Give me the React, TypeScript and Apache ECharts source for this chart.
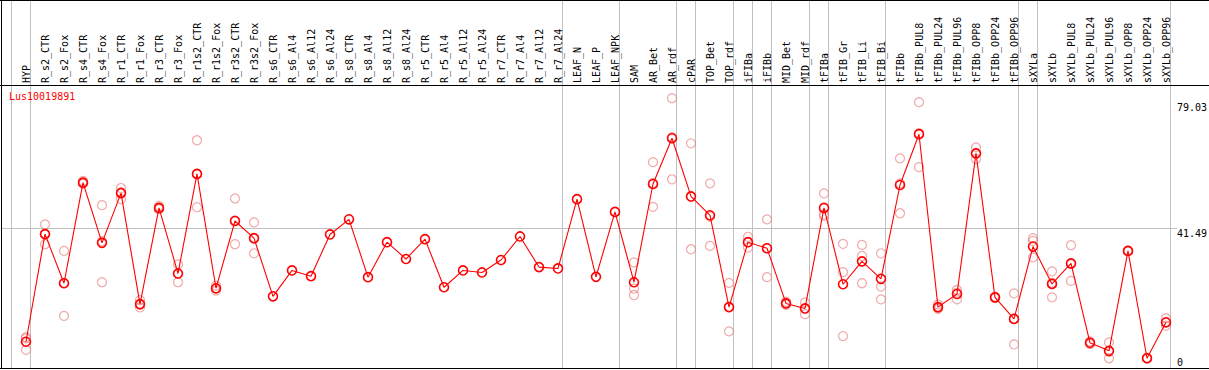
import React, { useEffect, useRef } from "react";
import * as echarts from "echarts";

const categories = [
  "HYP", "R_s2_CTR", "R_s2_Fox", "R_s4_CTR", "R_s4_Fox", "R_r1_CTR", "R_r1_Fox", "R_r3_CTR", "R_r3_Fox",
  "R_r1s2_CTR", "R_r1s2_Fox", "R_r3s2_CTR", "R_r3s2_Fox", "R_s6_CTR", "R_s6_Al4", "R_s6_Al12", "R_s6_Al24",
  "R_s8_CTR", "R_s8_Al4", "R_s8_Al12", "R_s8_Al24", "R_r5_CTR", "R_r5_Al4", "R_r5_Al12", "R_r5_Al24",
  "R_r7_CTR", "R_r7_Al4", "R_r7_Al12", "R_r7_Al24", "LEAF_N", "LEAF_P", "LEAF_NPK", "SAM", "AR_Bet", "AR_rdf",
  "cPAR", "TOP_Bet", "TOP_rdf", "iFIBa", "iFIBb", "MID_Bet", "MID_rdf", "tFIBa", "tFIB_Gr", "tFIB_Li", "tFIB_Bi",
  "tFIBb", "tFIBb_PUL8", "tFIBb_PUL24", "tFIBb_PUL96", "tFIBb_OPP8", "tFIBb_OPP24", "tFIBb_OPP96",
  "sXYLa", "sXYLb", "sXYLb_PUL8", "sXYLb_PUL24", "sXYLb_PUL96", "sXYLb_OPP8", "sXYLb_OPP24", "sXYLb_OPP96",
];

const meanValues = [
  7.8, 39.8, 25.2, 55.1, 37.2, 52.0, 19.0, 47.6, 28.1,
  57.7, 23.7, 43.7, 38.6, 21.3, 29.0, 27.3, 39.7,
  44.2, 27.0, 37.4, 32.4, 38.3, 24.0, 29.0, 28.4,
  32.1, 39.1, 30.0, 29.6, 50.2, 27.1, 46.4, 25.5, 54.7, 68.3,
  51.0, 45.4, 18.1, 37.4, 35.6, 19.2, 17.7, 47.6, 24.9, 31.7, 26.5,
  54.4, 69.5, 18.1, 22.0, 63.8, 21.0, 14.6,
  36.1, 25.0, 31.1, 7.5, 5.1, 34.8, 2.9, 13.6,
];

const N = null;
const replicateA = [
  9.2, 42.7, 34.8, 55.6, 48.4, 53.5, 20.2, 48.2, 30.8,
  67.7, 24.5, 50.4, 43.3, N, N, N, N,
  N, N, N, N, N, N, N, N,
  N, N, N, N, N, N, N, 31.4, 61.2, 80.2,
  66.8, 54.9, 25.3, 39.0, 44.2, 19.7, 19.5, 51.9, 36.9, 36.6, 34.1,
  62.3, 79.03, 18.9, 23.2, 65.6, 21.2, 22.2,
  38.6, 28.7, 36.5, 7.9, 7.6, 34.8, 3.1, 14.8,
];
const replicateB = [
  8.8, 39.9, 25.3, 54.9, 37.7, 52.3, 18.8, 47.3, 28.0,
  57.6, 23.6, 43.9, 38.4, N, N, N, N,
  N, N, N, N, N, N, N, N,
  N, N, N, N, N, N, N, 23.6, 55.0, 68.6,
  50.9, 45.0, 18.1, 37.4, 35.6, 19.1, 17.6, 45.7, 28.5, 33.3, 24.2,
  54.9, 69.8, 17.8, 22.4, 63.7, 21.0, 14.6,
  37.8, 25.3, 30.9, 7.5, 4.8, 34.8, 2.9, 13.4,
];
const replicateC = [
  5.4, 36.8, 15.5, 54.8, 25.5, 50.2, 18.0, 47.3, 25.5,
  47.8, 23.0, 36.8, 34.1, N, N, N, N,
  N, N, N, N, N, N, N, N,
  N, N, N, N, N, N, N, 21.7, 47.9, 56.1,
  35.3, 36.3, 10.9, 35.8, 27.0, 18.8, 16.0, 45.2, 9.5, 25.2, 20.4,
  46.0, 59.7, 17.6, 20.4, 62.1, 20.8, 7.0,
  32.9, 21.0, 25.9, 7.1, 2.9, 34.8, 2.8, 12.6,
];

const yTickValues = [79.03, 41.49, 0];
const yTickLabels = ["79.03", "41.49", "0"];
const gridLineValue = 41.49;
// index of the last category of each group (-1 = before the first one)
const groupEnds = [-1, 0, 28, 31, 34, 35, 37, 38, 39, 41, 42, 45, 52, 53, 60];
const geneName = "Lus10019891";
const Y_MAX = 84.13;

const FONT = "'DejaVu Sans Mono', monospace";

export default function App() {
  const ref = useRef<HTMLDivElement>(null);
  useEffect(() => {
    if (!ref.current) return;
    const chart = echarts.init(ref.current, null, { renderer: "svg" });
    const replicatePoints: [number, number][] = [];
    [replicateA, replicateB, replicateC].forEach((arr) =>
      arr.forEach((v, i) => {
        if (v !== null) replicatePoints.push([i, v as number]);
      })
    );
    chart.setOption({
      animation: false,
      grid: { left: 26, right: 43, top: 85, bottom: 2, containLabel: false },
      xAxis: {
        type: "category",
        position: "top",
        data: categories,
        boundaryGap: false,
        axisLine: { show: false },
        axisTick: { show: false },
        splitLine: { show: false },
        axisLabel: {
          interval: 0,
          rotate: 90,
          margin: 2,
          fontFamily: FONT,
          fontSize: 10,
          color: "#000",
        },
      },
      yAxis: {
        type: "value",
        min: 0,
        max: Y_MAX,
        show: false,
        splitLine: { show: false },
      },
      series: [
        {
          type: "scatter",
          data: replicatePoints,
          symbol: "circle",
          symbolSize: 9,
          z: 2,
          itemStyle: {
            color: "rgba(0,0,0,0)",
            borderColor: "rgba(232,120,120,0.8)",
            borderWidth: 1.2,
          },
        },
        {
          type: "line",
          data: meanValues,
          symbol: "circle",
          symbolSize: 9,
          showSymbol: true,
          showAllSymbol: true,
          z: 3,
          lineStyle: { color: "#ff0000", width: 1.1 },
          itemStyle: {
            color: "rgba(0,0,0,0)",
            borderColor: "#ff0000",
            borderWidth: 1.6,
          },
        },
      ],
    });

    const px = (i: number) => chart.convertToPixel({ xAxisIndex: 0 }, categories[i]) as number;
    const step = px(1) - px(0);
    const xOf = (i: number) => (i < 0 ? px(0) + i * step : px(i));
    const py = (v: number) => chart.convertToPixel({ yAxisIndex: 0 }, v) as number;
    const W = 1209;
    const bottomY = Math.round(py(0)) + 0.5;
    const topAxisY = Math.round(py(Y_MAX)) + 0.5;
    const labelX = xOf(60) + 11;

    const graphic: any[] = [];
    groupEnds.forEach((b) => {
      const x = Math.round(xOf(b) + 4) + 0.5;
      graphic.push({
        type: "line",
        z: 0,
        silent: true,
        shape: { x1: x, y1: 0, x2: x, y2: bottomY },
        style: { stroke: "#c0c0c0", lineWidth: 1 },
      });
    });
    const gy = Math.round(py(gridLineValue)) + 0.5;
    graphic.push({
      type: "line",
      z: 0,
      silent: true,
      shape: { x1: 1, y1: gy, x2: labelX, y2: gy },
      style: { stroke: "#c0c0c0", lineWidth: 1 },
    });
    [0.5, topAxisY, bottomY].forEach((y) =>
      graphic.push({
        type: "line",
        z: 5,
        silent: true,
        shape: { x1: 0, y1: y, x2: W, y2: y },
        style: { stroke: "#000", lineWidth: 1 },
      })
    );
    graphic.push({
      type: "line",
      z: 5,
      silent: true,
      shape: { x1: 1.5, y1: 0, x2: 1.5, y2: bottomY },
      style: { stroke: "#000", lineWidth: 1 },
    });
    yTickValues.forEach((v, k) => {
      const y = py(v);
      const atBottom = v === 0;
      graphic.push({
        type: "text",
        z: 6,
        silent: true,
        x: labelX,
        y: atBottom ? y - 1 : y,
        style: {
          text: yTickLabels[k],
          fill: "#000",
          font: `10px ${FONT}`,
          textAlign: "left",
          textVerticalAlign: atBottom ? "bottom" : "top",
        },
      });
    });
    graphic.push({
      type: "text",
      z: 6,
      silent: true,
      x: 9,
      y: topAxisY + 6,
      style: {
        text: geneName,
        fill: "#ff0000",
        font: `10px ${FONT}`,
        textAlign: "left",
        textVerticalAlign: "top",
      },
    });
    chart.setOption({ graphic });

    return () => chart.dispose();
  }, []);
  return (
    <div
      ref={ref}
      style={{ position: "absolute", left: 0, top: 0, width: 1209, height: 370 }}
    />
  );
}
